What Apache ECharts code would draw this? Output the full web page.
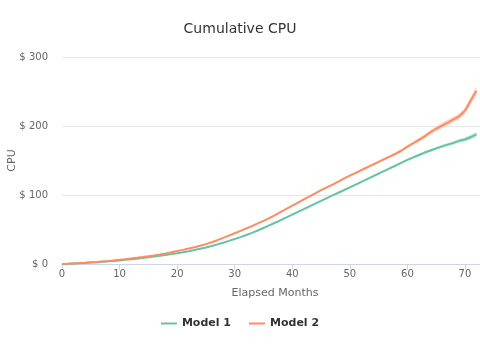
<!DOCTYPE html>
<html><head><meta charset="utf-8">
<script src="https://cdn.jsdelivr.net/npm/echarts@6/dist/echarts.min.js"></script>
<style>html,body{margin:0;padding:0;background:#fff}#c{width:480px;height:360px}</style>
</head><body><div id="c"></div>
<script>
var months = [];
for (var i = 0; i <= 72; i++) months.push(i);
var model1 = [0,0.3,0.7,1.1,1.6,2.1,2.6,3.2,3.8,4.5,5.2,6.0,6.8,7.7,8.6,9.6,10.7,11.8,13.0,14.3,15.6,17.0,18.6,20.3,22.1,24.0,26.1,28.4,30.9,33.5,36.2,39.0,42.0,45.2,48.6,52.2,56.0,59.8,63.7,67.6,71.6,75.6,79.6,83.6,87.6,91.6,95.5,99.4,103.3,107.2,111.0,115.0,119.0,123.0,127.0,131.0,135.0,139.0,142.8,147.0,151.0,154.5,158.0,161.5,164.5,167.5,170.5,173.0,175.5,178.5,180.5,184.0,188.0];
var model2 = [0,0.3,0.8,1.3,1.8,2.4,3.0,3.7,4.4,5.2,6.0,6.9,7.9,8.9,10.0,11.2,12.5,13.9,15.4,17.0,18.7,20.5,22.4,24.4,26.5,28.8,31.5,34.5,37.8,41.2,44.6,48.0,51.5,55.0,58.8,62.6,66.5,71.0,75.5,80.0,84.5,89.0,93.5,98.0,102.5,107.0,111.0,115.0,119.5,124.0,128.0,132.0,136.0,140.0,144.0,148.0,152.0,156.0,160.0,164.5,170.0,175.0,180.0,185.0,191.0,196.0,200.5,205.0,209.5,214.0,222.0,237.0,251.0];
var model1Err = [0,0.1,0.1,0.1,0.1,0.1,0.1,0.1,0.1,0.2,0.2,0.2,0.2,0.2,0.2,0.3,0.3,0.3,0.3,0.3,0.3,0.4,0.4,0.4,0.4,0.4,0.5,0.5,0.5,0.5,0.5,0.6,0.6,0.6,0.6,0.6,0.7,0.7,0.7,0.7,0.8,0.8,0.8,0.8,0.9,0.9,0.9,1.0,1.0,1.0,1.1,1.1,1.1,1.2,1.2,1.3,1.3,1.4,1.4,1.5,1.6,1.7,1.8,1.9,2.0,2.1,2.2,2.4,2.6,2.8,3.0,3.4,3.8];
var model2Err = [0,0.1,0.1,0.1,0.1,0.1,0.1,0.1,0.1,0.2,0.2,0.2,0.2,0.2,0.2,0.3,0.3,0.3,0.3,0.3,0.3,0.4,0.4,0.4,0.4,0.5,0.5,0.5,0.5,0.6,0.6,0.6,0.7,0.7,0.7,0.8,0.8,0.8,0.9,0.9,1.0,1.0,1.1,1.1,1.2,1.2,1.3,1.3,1.4,1.4,1.5,1.5,1.6,1.7,1.8,1.9,2.0,2.1,2.2,2.3,2.5,2.7,2.9,3.1,3.3,3.5,3.7,3.9,4.1,4.3,4.6,5.5,6.5];
var yTicks = [0,100,200,300];
var xTicks = [0,10,20,30,40,50,60,70];

function pairs(vals){ return months.map(function(m,i){ return [m, vals[i]]; }); }
function bandItems(vals, err){ return months.map(function(m,i){ return [m, vals[i]-err[i], vals[i]+err[i]]; }); }
function bandRender(color, items){
  return function(params, api){
    if (params.dataIndex !== 0) return null;
    var top = [], bot = [];
    for (var k = 0; k < items.length; k++) {
      top.push(api.coord([items[k][0], items[k][2]]));
      bot.unshift(api.coord([items[k][0], items[k][1]]));
    }
    return { type: 'polygon', shape: { points: top.concat(bot) },
      style: { fill: color, opacity: 0.35 }, silent: true };
  };
}

var c1 = '#66c2a5', c2 = '#fc8d62';
var b1 = bandItems(model1, model1Err), b2 = bandItems(model2, model2Err);
var chart = echarts.init(document.getElementById('c'), null, {renderer:'canvas'});
var font = '"DejaVu Sans", sans-serif';
chart.setOption({
  animation: false,
  title: { text: 'Cumulative CPU', left: 'center', top: 17,
    textStyle: { fontFamily: font, fontSize: 14, fontWeight: 'normal', color: '#333333' } },
  grid: { left: 62, right: -8, top: 57, bottom: 96, outerBoundsMode: 'none', containLabel: false },
  legend: { bottom: 26, left: 'center', itemWidth: 16, itemHeight: 2, itemGap: 18,
    data: [{name:'Model 1', icon:'rect'}, {name:'Model 2', icon:'rect'}],
    textStyle: { fontFamily: font, fontSize: 11, fontWeight: 'bold', color: '#333333' } },
  xAxis: { type: 'value', min: 0, max: 74, interval: 10,
    name: 'Elapsed Months', nameLocation: 'middle', nameGap: 24, nameMoveOverlap: false,
    nameTextStyle: { fontFamily: font, fontSize: 11, color: '#666666' },
    axisLine: { lineStyle: { color: '#ccd6eb' } },
    axisTick: { show: true, length: 6, lineStyle: { color: '#ccd6eb' } },
    axisLabel: { fontFamily: font, fontSize: 10, color: '#666666', margin: 5,
      formatter: function(v){ return xTicks.indexOf(v) >= 0 ? String(v) : ''; } },
    splitLine: { show: false } },
  yAxis: { type: 'value', min: 0, max: 300, interval: 100,
    name: 'CPU', nameLocation: 'middle', nameGap: 44, nameMoveOverlap: false,
    nameTextStyle: { fontFamily: font, fontSize: 11, color: '#666666' },
    axisLine: { show: false }, axisTick: { show: false },
    axisLabel: { fontFamily: font, fontSize: 10, color: '#666666', margin: 14,
      formatter: function(v){ return yTicks.indexOf(v) >= 0 ? '$ ' + v : ''; } },
    splitLine: { lineStyle: { color: '#e6e6e6', width: 1 } } },
  series: [
    { name: 'band1', type: 'custom', data: b1, renderItem: bandRender(c1, b1), silent: true, z: 1,
      encode: { x: 0, y: [1, 2] } },
    { name: 'band2', type: 'custom', data: b2, renderItem: bandRender(c2, b2), silent: true, z: 1,
      encode: { x: 0, y: [1, 2] } },
    { name: 'Model 1', type: 'line', data: pairs(model1), symbol: 'none', color: c1,
      lineStyle: { color: c1, width: 2 }, z: 3 },
    { name: 'Model 2', type: 'line', data: pairs(model2), symbol: 'none', color: c2,
      lineStyle: { color: c2, width: 2 }, z: 3 }
  ]
});
</script></body></html>
